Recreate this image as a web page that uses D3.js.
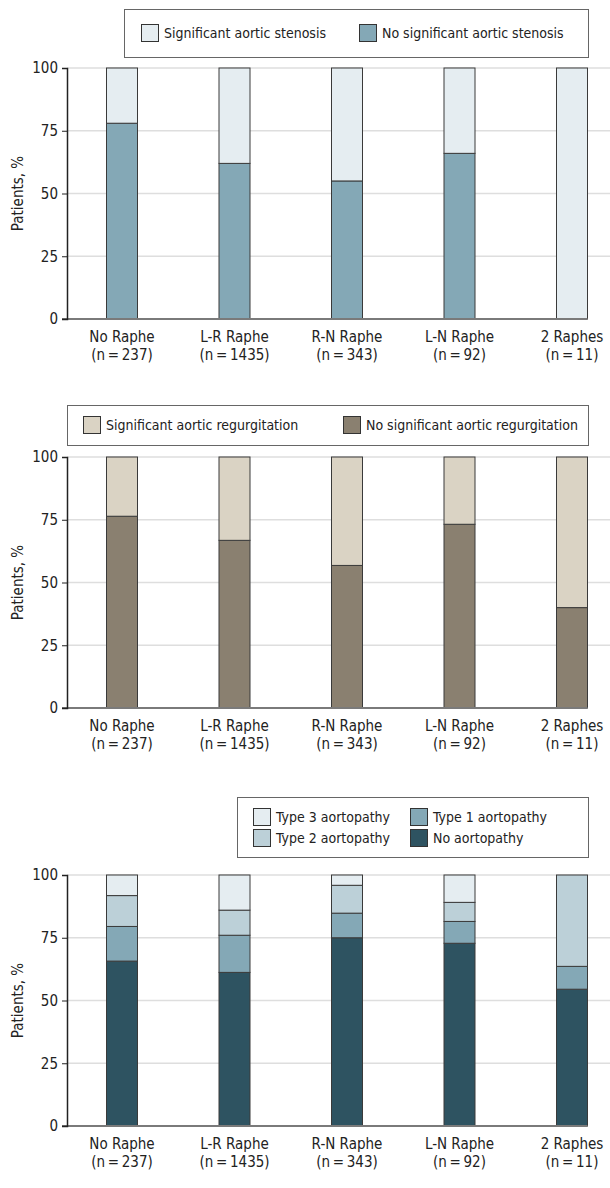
<!DOCTYPE html>
<html>
<head>
<meta charset="utf-8">
<script src="https://cdn.jsdelivr.net/npm/d3@7"></script>
<style>
  body { margin: 0; background: #fff; }
  text { font-family: "DejaVu Sans Condensed", "Liberation Sans Narrow", sans-serif; fill: #222; }
</style>
</head>
<body>
<div id="chart"></div>
<script>
const W = 610, H = 1188;

// categories and tick labels
const categories = ["No Raphe", "L-R Raphe", "R-N Raphe", "L-N Raphe", "2 Raphes"];
const counts = [237, 1435, 343, 92, 11];
const yTicks = [0, 25, 50, 75, 100];

// panel 1: aortic stenosis (% of patients)
const stenosisNo = [78, 62, 55, 66, 0];
const stenosisSig = [22, 38, 45, 34, 100];

// panel 2: aortic regurgitation
const regurgNo = [76.4, 66.8, 56.8, 73.2, 40];
const regurgSig = [23.6, 33.2, 43.2, 26.8, 60];

// panel 3: aortopathy types
const aortoNone = [65.7, 61.2, 75, 72.8, 54.5];
const aortoType1 = [13.8, 14.8, 9.8, 8.7, 9.1];
const aortoType2 = [12.3, 10, 11.1, 7.6, 36.4];
const aortoType3 = [8.2, 14, 4.1, 10.9, 0];

const svg = d3.select("#chart").append("svg")
  .attr("width", W)
  .attr("height", H);

const x = d3.scalePoint()
  .domain(categories)
  .range([65.75, 628.25])
  .padding(0.5);

const barW = 31;
const axisX = 67;

function drawPanel(top, bottom, series, legend) {
  const y = d3.scaleLinear().domain([0, 100]).range([bottom, top]);
  const g = svg.append("g");

  // gridlines
  g.selectAll(".grid")
    .data(yTicks.filter(d => d > 0))
    .join("line")
      .attr("x1", axisX).attr("x2", W)
      .attr("y1", d => y(d)).attr("y2", d => y(d))
      .attr("stroke", "#dedede")
      .attr("stroke-width", 1.5);

  // stacked bars
  const rows = categories.map((c, i) => {
    const r = { cat: c };
    series.forEach(s => { r[s.key] = s.values[i]; });
    return r;
  });
  const stack = d3.stack().keys(series.map(s => s.key))(rows);
  stack.forEach((layer, li) => {
    g.append("g").selectAll("rect")
      .data(layer)
      .join("rect")
        .attr("x", d => x(d.data.cat) - barW / 2)
        .attr("width", barW)
        .attr("y", d => y(d[1]))
        .attr("height", d => Math.max(0, y(d[0]) - y(d[1])))
        .attr("fill", series[li].color)
        .attr("stroke", "#3a3a3a")
        .attr("stroke-width", d => (d[1] - d[0]) > 0 ? 1 : 0);
  });

  // baseline
  g.append("line")
    .attr("x1", axisX - 5).attr("x2", x(categories[4]) + barW / 2)
    .attr("y1", y(0)).attr("y2", y(0))
    .attr("stroke", "#7a7a7a")
    .attr("stroke-width", 2);

  // y axis
  const ax = g.append("g")
    .attr("transform", `translate(${axisX},0)`)
    .call(d3.axisLeft(y).tickValues(yTicks).tickSize(5).tickPadding(4));
  ax.select(".domain").attr("stroke", "#222").attr("stroke-width", 1.5);
  ax.selectAll(".tick line").attr("stroke", "#222").attr("stroke-width", 1);
  ax.selectAll(".tick text")
    .style("font-family", "'DejaVu Sans Condensed', sans-serif")
    .style("font-size", "15px")
    .attr("fill", "#222");

  g.append("text")
    .attr("transform", `translate(23,${(top + bottom) / 2}) rotate(-90)`)
    .attr("text-anchor", "middle")
    .style("font-size", "15px")
    .text("Patients, %");

  // category labels
  const lab = g.selectAll(".cat")
    .data(categories)
    .join("text")
      .attr("text-anchor", "middle")
      .attr("x", d => x(d))
      .attr("y", bottom + 23)
      .style("font-size", "15px");
  lab.append("tspan").text(d => d);
  lab.append("tspan")
    .attr("x", d => x(d))
    .attr("dy", 18)
    .text((d, i) => `(n\u2009=\u2009${counts[i]})`);

  // legend
  const lg = g.append("g");
  lg.append("rect")
    .attr("x", legend.box[0] + 0.5).attr("y", legend.box[1] + 0.5)
    .attr("width", legend.box[2]).attr("height", legend.box[3])
    .attr("fill", "#fff")
    .attr("stroke", "#666");
  legend.items.forEach(it => {
    lg.append("rect")
      .attr("x", it.x + 0.5).attr("y", it.y - 9 + 0.5)
      .attr("width", 17).attr("height", 17)
      .attr("fill", it.color)
      .attr("stroke", "#333");
    lg.append("text")
      .attr("x", it.x + 23).attr("y", it.y + 5)
      .style("font-size", "14px")
      .text(it.label);
  });
}

drawPanel(68, 319, [
  { key: "no", values: stenosisNo, color: "#84a8b6" },
  { key: "sig", values: stenosisSig, color: "#e5edf1" }
], {
  box: [124, 9, 464, 48],
  items: [
    { x: 141, y: 33, color: "#e5edf1", label: "Significant aortic stenosis" },
    { x: 359, y: 33, color: "#84a8b6", label: "No significant aortic stenosis" }
  ]
});

drawPanel(457, 708, [
  { key: "no", values: regurgNo, color: "#8a8070" },
  { key: "sig", values: regurgSig, color: "#dad3c4" }
], {
  box: [67, 405, 521, 40],
  items: [
    { x: 83, y: 425, color: "#dad3c4", label: "Significant aortic regurgitation" },
    { x: 343, y: 425, color: "#8a8070", label: "No significant aortic regurgitation" }
  ]
});

drawPanel(875, 1126, [
  { key: "none", values: aortoNone, color: "#2e5361" },
  { key: "t1", values: aortoType1, color: "#84a8b6" },
  { key: "t2", values: aortoType2, color: "#bcd0d8" },
  { key: "t3", values: aortoType3, color: "#e5edf1" }
], {
  box: [237, 797, 351, 60],
  items: [
    { x: 253, y: 817, color: "#e5edf1", label: "Type 3 aortopathy" },
    { x: 410, y: 817, color: "#84a8b6", label: "Type 1 aortopathy" },
    { x: 253, y: 838, color: "#bcd0d8", label: "Type 2 aortopathy" },
    { x: 410, y: 838, color: "#2e5361", label: "No aortopathy" }
  ]
});
</script>
</body>
</html>
